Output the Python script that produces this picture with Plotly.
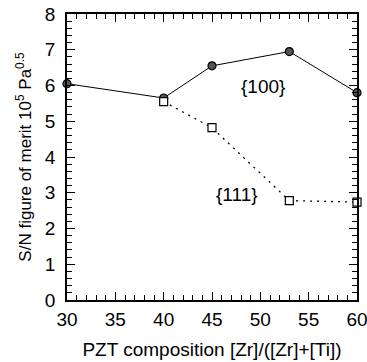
import plotly.graph_objects as go

x100 = [30, 40, 45, 53, 60]
y100 = [6.05, 5.65, 6.55, 6.95, 5.8]
x111 = [40, 45, 53, 60]
y111 = [5.55, 4.82, 2.78, 2.74]

FONT = "Liberation Sans"

fig = go.Figure()
fig.add_trace(go.Scatter(x=x100, y=y100, mode="lines+markers",
                         line=dict(color="black", width=1),
                         marker=dict(symbol="circle", size=8, color="#555555",
                                     line=dict(color="black", width=1.2)),
                         cliponaxis=False, showlegend=False))
fig.add_trace(go.Scatter(x=x111, y=y111, mode="lines+markers",
                         line=dict(color="black", width=1.3, dash="2px,5px"),
                         marker=dict(symbol="square", size=8, color="white",
                                     line=dict(color="black", width=1.2)),
                         cliponaxis=False, showlegend=False))

fig.add_annotation(x=50.3, y=5.96, text="{100}", showarrow=False,
                   font=dict(size=19, color="black", family=FONT))
fig.add_annotation(x=47.6, y=2.96, text="{111}", showarrow=False,
                   font=dict(size=19, color="black", family=FONT))

axis_common = dict(showgrid=False, zeroline=False, showline=True, linecolor="black",
                   linewidth=1.5, mirror="allticks", ticks="inside", ticklen=8,
                   tickwidth=1.2, tickcolor="black", automargin=False,
                   ticklabeloverflow="allow",
                   tickfont=dict(size=19, family=FONT, color="black"))

fig.update_xaxes(range=[30, 60], tickvals=[30, 35, 40, 45, 50, 55, 60],
                 minor=dict(dtick=1, ticks="inside", ticklen=5, tickcolor="black", tickwidth=1),
                 ticklabelstandoff=1,
                 title=dict(text="PZT composition [Zr]/([Zr]+[Ti])",
                            font=dict(size=19, family=FONT, color="black"),
                            standoff=14),
                 **axis_common)
fig.update_yaxes(range=[0, 8], tickvals=list(range(0, 9)),
                 minor=dict(dtick=0.2, ticks="inside", ticklen=5, tickcolor="black", tickwidth=1),
                 ticklabelstandoff=6,
                 title=dict(text="S/N figure of merit 10<sup>5</sup> Pa<sup>0.5</sup>",
                            font=dict(size=17, family=FONT, color="black"),
                            standoff=9),
                 **axis_common)

fig.update_layout(width=367, height=362, margin=dict(l=67, r=10, t=14, b=62),
                  plot_bgcolor="white", paper_bgcolor="white")
fig.write_html("out.html")
